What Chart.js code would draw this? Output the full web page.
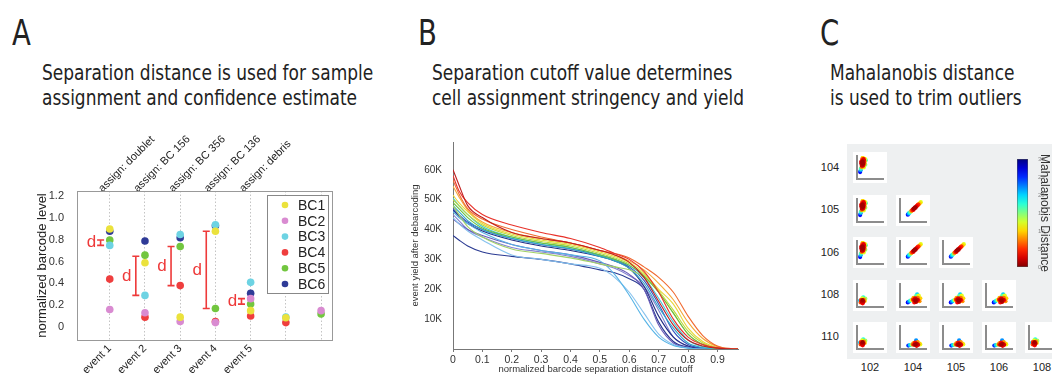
<!DOCTYPE html>
<html><head><meta charset="utf-8">
<script src="https://cdn.jsdelivr.net/npm/chart.js@4"></script>
<style>
body{margin:0;width:1052px;height:375px;background:#fff;position:relative;overflow:hidden;font-family:"Liberation Sans Narrow","DejaVu Sans Condensed",sans-serif;color:#222}
.abs{position:absolute}
.letter{font-size:36px;line-height:36px;transform:scaleX(0.85);transform-origin:left top}
.sub{font-size:21px;line-height:25px;white-space:nowrap;transform:scaleX(0.9);transform-origin:left top}
.lab{font-family:"Liberation Sans",sans-serif;font-size:11px;color:#222;width:30px;text-align:center}
canvas{position:absolute}
</style></head><body>
<div class="abs letter" style="left:12px;top:15px">A</div>
<div class="abs letter" style="left:418px;top:15px">B</div>
<div class="abs letter" style="left:820px;top:15px">C</div>
<div class="abs sub" style="left:42px;top:61px">Separation distance is used for sample<br>assignment and confidence estimate</div>
<div class="abs sub" style="left:432px;top:61px">Separation cutoff value determines<br>cell assignment stringency and yield</div>
<div class="abs sub" style="left:830px;top:61px">Mahalanobis distance<br>is used to trim outliers</div>
<div class="abs" style="left:847px;top:144px;width:205px;height:215px;background:#eef0f1"></div>
<canvas id="chartA" width="400" height="255" style="left:0;top:120px"></canvas>
<canvas id="chartB" width="340" height="245" style="left:410px;top:130px"></canvas>
<canvas id="cbar" width="47" height="126" style="left:1005px;top:150px"></canvas>
<script>
// ---------- panel A
const eventPos = [1, 2, 3, 4, 5, 6, 7];
const eventLabels = ['event 1', 'event 2', 'event 3', 'event 4', 'event 5', '', ''];
const assignLabels = ['assign: doublet', 'assign: BC 156', 'assign: BC 356', 'assign: BC 136', 'assign: debris', '', ''];
const bcNames = ['BC1', 'BC2', 'BC3', 'BC4', 'BC5', 'BC6'];
const bcColors = ['#ebe23c', '#d98bd1', '#6dd3e3', '#ef3e3e', '#72c63f', '#2f3b97'];
const bc1 = [0.90, 0.59, 0.09, 0.88, 0.15, 0.085, null];
const bc2 = [0.16, 0.13, 0.05, 0.04, 0.26, null, 0.15];
const bc3 = [0.75, 0.29, 0.85, 0.94, 0.41, 0.09, null];
const bc4 = [0.44, 0.09, 0.38, 0.05, 0.10, 0.04, null];
const bc5 = [0.80, 0.66, 0.74, 0.17, 0.21, null, 0.12];
const bc6 = [0.88, 0.79, 0.82, 0.93, 0.31, null, null];
const bcLevels = [bc1, bc2, bc3, bc4, bc5, bc6];
const yTicksA = [0, 0.2, 0.4, 0.6, 0.8, 1, 1.2];
const dPos = [1, 2, 3, 4, 5];
const dLow = [0.75, 0.29, 0.38, 0.17, 0.21];
const dHigh = [0.80, 0.65, 0.74, 0.88, 0.26];

// ---------- panel B (event yield, thousands)
const cutoffX = [0, 0.02, 0.05, 0.1, 0.2, 0.3, 0.4, 0.5, 0.55, 0.6, 0.65, 0.7, 0.75, 0.8, 0.85, 0.9, 0.95, 0.97];
const yield1 = [60, 55, 48, 44, 39, 37, 35.5, 33, 31.5, 29, 24, 16, 8, 3, 1, 0.3, 0, 0];
const yield2 = [58, 53, 49, 45, 41.5, 39, 37, 34, 32, 30, 26, 19, 10, 4, 1.5, 0.4, 0, 0];
const yield3 = [56.5, 52, 47, 43.5, 40, 37.5, 35.5, 33, 32, 30.5, 27.5, 24, 19, 11, 4.5, 1, 0.1, 0];
const yield4 = [54.5, 51, 46.5, 42.5, 39, 37, 35.5, 33, 31.5, 29.5, 26.5, 22, 16.5, 9, 3.5, 0.8, 0, 0];
const yield5 = [51.5, 49, 46, 42, 38.5, 36.5, 35, 32.5, 31, 29, 25.5, 20, 15, 7, 2.5, 0.5, 0, 0];
const yield6 = [50, 48, 45, 41.5, 38, 36, 34.5, 32, 30.5, 28.5, 25, 19.5, 13, 6, 2, 0.3, 0, 0];
const yield7 = [49, 47, 44, 40.5, 37.5, 35.5, 34, 31.5, 30, 28, 24.5, 19, 12, 5, 1.5, 0.2, 0, 0];
const yield8 = [48, 45, 41, 37.5, 33.5, 32, 30.5, 28.5, 27.5, 26.5, 24, 19, 12, 5, 1.5, 0.2, 0, 0];
const yield9 = [50.5, 48, 45, 41, 37.5, 35.5, 34, 31.5, 30, 28, 24, 17, 9, 3, 0.8, 0.1, 0, 0];
const yield10 = [48, 46, 43, 40, 37, 35, 33.5, 31, 29.5, 27, 22, 14, 7, 2, 0.5, 0, 0, 0];
const yield11 = [46, 44, 42, 39, 35, 33, 31.5, 29.5, 25, 18, 10, 4, 1.2, 0.3, 0, 0, 0, 0];
const yield12 = [44, 42, 39.5, 36.5, 31.5, 30, 28.5, 27, 24, 19, 12, 5, 1.5, 0.3, 0, 0, 0, 0];
const yield13 = [47, 45, 42.5, 40, 37, 35, 33.5, 31.5, 30, 27.5, 23, 15, 6, 1.5, 0.3, 0, 0, 0];
const yield14 = [46.5, 44.5, 42, 39.5, 36.5, 34.5, 33, 31, 29.5, 27, 21, 11, 4, 1, 0.2, 0, 0, 0];
const yield15 = [43.5, 42, 40, 38, 35, 33, 31.5, 29, 27.5, 25, 20, 8, 2, 0.5, 0, 0, 0, 0];
const yield16 = [38, 36.5, 34.5, 32.5, 31, 30, 28.5, 26.5, 25.5, 23.5, 20, 9, 2.5, 0.6, 0.1, 0, 0, 0];
const yield17 = [45, 43, 40, 37.5, 34, 32.5, 31, 28.5, 27, 24.5, 21, 13, 4, 1, 0.2, 0, 0, 0];
const yieldCurves = [yield1, yield2, yield3, yield4, yield5, yield6, yield7, yield8, yield9, yield10, yield11, yield12, yield13, yield14, yield15, yield16, yield17];
const curveColors = ['#c01e1e', '#e8322a', '#f06a30', '#f5a838', '#e6d83a', '#bcd83c', '#6cc040', '#a2d266', '#40c8d8', '#30a8c8', '#58b4e6', '#86c2ee', '#3454c0', '#222c84', '#6a5cb8', '#2a3a92', '#8482d0'];
const xTicksB = [0, 0.1, 0.2, 0.3, 0.4, 0.5, 0.6, 0.7, 0.8, 0.9];
const yTicksB = [10, 20, 30, 40, 50, 60];

// ---------- panel C
const rowLabels = ['104', '105', '106', '108', '110'];
const colLabels = ['102', '104', '105', '106', '108'];
const cloudTall = [[0.22,0.78,2],[0.2,0.7,1],[0.25,0.72,2],[0.18,0.62,3],[0.23,0.65,1],[0.27,0.8,4],[0.2,0.85,5],[0.16,0.75,3],[0.28,0.66,6],[0.24,0.58,4],[0.3,0.75,9],[0.3,0.88,11],[0.22,0.92,10],[0.32,0.62,14],[0.18,0.52,8],[0.15,0.45,17],[0.14,0.38,22],[0.12,0.3,26],[0.34,0.82,16],[0.26,0.5,12],[0.17,0.68,2],[0.21,0.76,1],[0.26,0.86,3],[0.19,0.58,2]];
const cloudDiag = [[0.3,0.32,26],[0.33,0.36,22],[0.36,0.4,19],[0.4,0.44,15],[0.44,0.48,9],[0.48,0.52,5],[0.5,0.55,3],[0.53,0.58,1],[0.56,0.6,2],[0.58,0.64,1],[0.62,0.67,3],[0.65,0.7,4],[0.68,0.73,6],[0.72,0.77,8],[0.76,0.81,10],[0.8,0.86,12],[0.45,0.5,7],[0.6,0.62,2],[0.52,0.53,4],[0.7,0.76,5]];
const cloudSmall = [[0.18,0.25,2],[0.22,0.3,1],[0.2,0.2,3],[0.25,0.24,2],[0.15,0.3,5],[0.27,0.32,8],[0.2,0.38,12],[0.3,0.26,10],[0.14,0.2,6],[0.24,0.42,18],[0.32,0.36,14],[0.12,0.28,20],[0.22,0.16,4]];
const cloudWide = [[0.3,0.2,26],[0.35,0.24,22],[0.4,0.28,18],[0.45,0.3,12],[0.5,0.32,5],[0.55,0.3,2],[0.6,0.28,1],[0.65,0.32,2],[0.58,0.38,3],[0.62,0.22,2],[0.7,0.3,4],[0.68,0.4,7],[0.72,0.5,12],[0.62,0.48,16],[0.78,0.38,10],[0.55,0.2,4],[0.52,0.4,9],[0.75,0.25,8],[0.66,0.55,20]];
const cloudFlat = [[0.32,0.15,25],[0.38,0.17,20],[0.45,0.19,14],[0.5,0.2,6],[0.55,0.18,2],[0.6,0.2,1],[0.65,0.22,2],[0.7,0.18,3],[0.58,0.28,4],[0.68,0.3,8],[0.62,0.38,22],[0.75,0.24,10],[0.78,0.2,12],[0.52,0.26,9],[0.64,0.14,3]];
const panelGrid = [
  [cloudTall],
  [cloudTall, cloudDiag],
  [cloudTall, cloudDiag, cloudDiag],
  [cloudSmall, cloudWide, cloudWide, cloudWide],
  [cloudSmall, cloudFlat, cloudFlat, cloudFlat, cloudSmall]
];
const cbarTicks = [0, 5, 10, 15, 20, 25, 30];

function jet(d){
  const t = 1 - d / 30;
  const c = v => Math.round(255 * Math.max(0, Math.min(1, v)));
  return 'rgb(' + c(1.5 - Math.abs(4*t - 3)) + ',' + c(1.5 - Math.abs(4*t - 2)) + ',' + c(1.5 - Math.abs(4*t - 1)) + ')';
}

const base = {responsive:false, animation:false, devicePixelRatio:1};
const sans = '"Liberation Sans", Arial, sans-serif';

// ---------- chart A
const dBarsPlugin = {
  id:'dbars',
  afterDatasetsDraw(chart){
    const {ctx, scales:{x, y}, chartArea:ca} = chart;
    ctx.save();
    ctx.strokeStyle = '#999'; ctx.lineWidth = 1;
    ctx.strokeRect(ca.left + 0.5, ca.top + 0.5, ca.right - ca.left, ca.bottom - ca.top);
    ctx.strokeStyle = '#ee3a3a'; ctx.fillStyle = '#ee3a3a'; ctx.lineWidth = 1.6;
    ctx.font = '17px ' + sans; ctx.textAlign = 'center'; ctx.textBaseline = 'middle';
    dPos.forEach((p, i) => {
      const px = x.getPixelForValue(p - 0.26);
      const y1 = y.getPixelForValue(dLow[i]), y2 = y.getPixelForValue(dHigh[i]);
      ctx.beginPath();
      ctx.moveTo(px, y1); ctx.lineTo(px, y2);
      ctx.moveTo(px - 3.5, y1); ctx.lineTo(px + 3.5, y1);
      ctx.moveTo(px - 3.5, y2); ctx.lineTo(px + 3.5, y2);
      ctx.stroke();
      ctx.fillText('d', px - 9, (y1 + y2) / 2);
    });
    // legend box
    const bx = ca.right - 65, by = ca.top + 4, bw = 61, bh = 98;
    ctx.fillStyle = '#fff'; ctx.fillRect(bx, by, bw, bh);
    ctx.strokeStyle = '#888'; ctx.lineWidth = 1; ctx.strokeRect(bx + 0.5, by + 0.5, bw, bh);
    ctx.font = '14px ' + sans; ctx.textAlign = 'left';
    bcNames.forEach((n, i) => {
      const ly = by + 10 + i * 15.8;
      ctx.fillStyle = bcColors[i];
      ctx.beginPath(); ctx.arc(bx + 18, ly, 3.3, 0, Math.PI * 2); ctx.fill();
      ctx.fillStyle = '#222'; ctx.fillText(n, bx + 31, ly + 1);
    });
    ctx.restore();
  }
};

new Chart(document.getElementById('chartA'), {
  type:'scatter',
  data:{datasets: bcNames.map((n, i) => ({
    label:n,
    data: bcLevels[i].map((v, j) => v === null ? null : {x:eventPos[j], y:v}).filter(Boolean),
    backgroundColor: bcColors[i], borderWidth:0, pointRadius:3.8
  }))},
  options:Object.assign({}, base, {
    layout:{padding:{left:35, right:68, top:0, bottom:0}},
    plugins:{legend:{display:false}, tooltip:{enabled:false}},
    scales:{
      x:{type:'linear', position:'bottom', min:0.07, max:7.31,
        afterBuildTicks:s => { s.ticks = eventPos.map(v => ({value:v})); },
        afterFit:s => { s.height = 35; },
        ticks:{callback:(v, i) => eventLabels[i], minRotation:45, maxRotation:45, autoSkip:false, color:'#222', font:{family:sans, size:11}, padding:2},
        grid:{color:'#c4c4c4', drawTicks:false},
        border:{display:false, dash:[1.5, 2]}
      },
      xTop:{type:'linear', position:'top', min:0.07, max:7.31,
        afterBuildTicks:s => { s.ticks = eventPos.map(v => ({value:v})); },
        afterFit:s => { s.height = 71; },
        ticks:{callback:(v, i) => assignLabels[i], minRotation:45, maxRotation:45, autoSkip:false, color:'#222', font:{family:sans, size:11}, padding:-4},
        grid:{display:false, drawTicks:false}, border:{display:false}
      },
      y:{min:-0.12, max:1.25,
        afterBuildTicks:s => { s.ticks = yTicksA.map(v => ({value:v})); },
        afterFit:s => { s.width = 42; },
        ticks:{color:'#333', font:{family:sans, size:11}, padding:5},
        grid:{display:false}, border:{display:false},
        title:{display:true, text:'normalized barcode level', color:'#222', font:{family:sans, size:13}, padding:0}
      }
    }
  }),
  plugins:[dBarsPlugin]
});

// ---------- chart B
new Chart(document.getElementById('chartB'), {
  type:'line',
  data:{datasets: yieldCurves.map((c, i) => ({
    data: c.map((v, j) => ({x:cutoffX[j], y:v})),
    borderColor: curveColors[i], borderWidth:1.1, pointRadius:0, cubicInterpolationMode:'monotone', fill:false
  }))},
  options:Object.assign({}, base, {
    layout:{padding:{left:0, right:12, top:12, bottom:0}},
    plugins:{legend:{display:false}, tooltip:{enabled:false}},
    scales:{
      x:{type:'linear', min:0, max:0.97,
        afterBuildTicks:s => { s.ticks = xTicksB.map(v => ({value:v})); },
        afterFit:s => { s.height = 26; },
        ticks:{color:'#333', font:{family:sans, size:10.5}, padding:2, maxRotation:0},
        grid:{display:true, drawOnChartArea:false, tickLength:3, color:'#777'},
        border:{color:'#777', width:1},
        title:{display:true, text:'normalized barcode separation distance cutoff', color:'#333', font:{family:sans, size:9.5}, padding:{top:0, bottom:0}}
      },
      y:{min:0, max:69.3,
        afterBuildTicks:s => { s.ticks = yTicksB.map(v => ({value:v})); },
        afterFit:s => { s.width = 43; },
        ticks:{callback:v => v + 'K', color:'#333', font:{family:sans, size:10}, padding:3},
        grid:{display:false}, border:{color:'#777', width:1},
        title:{display:true, text:'event yield after debarcoding', color:'#333', font:{family:sans, size:9.5}, padding:0}
      }
    }
  })
});

// ---------- panel C mini scatters
panelGrid.forEach((row, r) => {
  const rl = document.createElement('div');
  rl.className = 'abs lab'; rl.textContent = rowLabels[r];
  rl.style.left = '815px'; rl.style.top = (161 + r * 42.3) + 'px';
  document.body.appendChild(rl);
  row.forEach((pts, c) => {
    const cv = document.createElement('canvas');
    cv.width = 34; cv.height = 31;
    cv.style.left = (853 + c * 43) + 'px'; cv.style.top = (152 + r * 42.6) + 'px';
    cv.style.background = '#fff';
    document.body.appendChild(cv);
    const sorted = pts.slice().sort((a, b) => b[2] - a[2]);
    new Chart(cv, {
      type:'scatter',
      data:{datasets:[{data: sorted.map(p => ({x:p[0], y:p[1]})), pointBackgroundColor: sorted.map(p => jet(p[2])), pointBorderWidth:0, pointRadius:2.1}]},
      options:Object.assign({}, base, {
        layout:{padding:0},
        plugins:{legend:{display:false}, tooltip:{enabled:false}},
        scales:{
          x:{min:0, max:1, afterFit:s => { s.height = 2; }, ticks:{display:false}, grid:{display:false, drawTicks:false}, border:{color:'#8c8c8c', width:2}},
          y:{min:0, max:1, afterFit:s => { s.width = 2; }, ticks:{display:false}, grid:{display:false, drawTicks:false}, border:{color:'#8c8c8c', width:2}}
        }
      })
    });
  });
});
colLabels.forEach((t, c) => {
  const cl = document.createElement('div');
  cl.className = 'abs lab'; cl.textContent = t;
  cl.style.left = (855 + c * 43) + 'px'; cl.style.top = '361px';
  document.body.appendChild(cl);
});

// ---------- colour bar
new Chart(document.getElementById('cbar'), {
  type:'bar',
  data:{labels:[''], datasets:[{data:[[cbarTicks[0], cbarTicks[cbarTicks.length - 1]]],
    backgroundColor:ctx => {
      const ca = ctx.chart.chartArea;
      if (!ca) return '#888';
      const g = ctx.chart.ctx.createLinearGradient(0, ca.bottom, 0, ca.top);
      for (let i = 0; i <= 12; i++) g.addColorStop(i / 12, jet(i * 2.5));
      return g;
    },
    borderColor:'#555', borderWidth:0.8, borderSkipped:false, barPercentage:1, categoryPercentage:1}]},
  options:Object.assign({}, base, {
    layout:{padding:{left:12, top:9, bottom:9, right:0}},
    plugins:{legend:{display:false}, tooltip:{enabled:false}},
    scales:{
      x:{display:false},
      y:{position:'right', min:0, max:30,
        afterBuildTicks:s => { s.ticks = cbarTicks.map(v => ({value:v})); },
        afterFit:s => { s.width = 24; },
        ticks:{color:'#888', font:{family:sans, size:6}, padding:2},
        grid:{display:false}, border:{display:false},
        title:{display:true, text:'Mahalanobis Distance', color:'#333', font:{family:sans, size:12}, padding:0}
      }
    }
  })
});
</script>
</body></html>
